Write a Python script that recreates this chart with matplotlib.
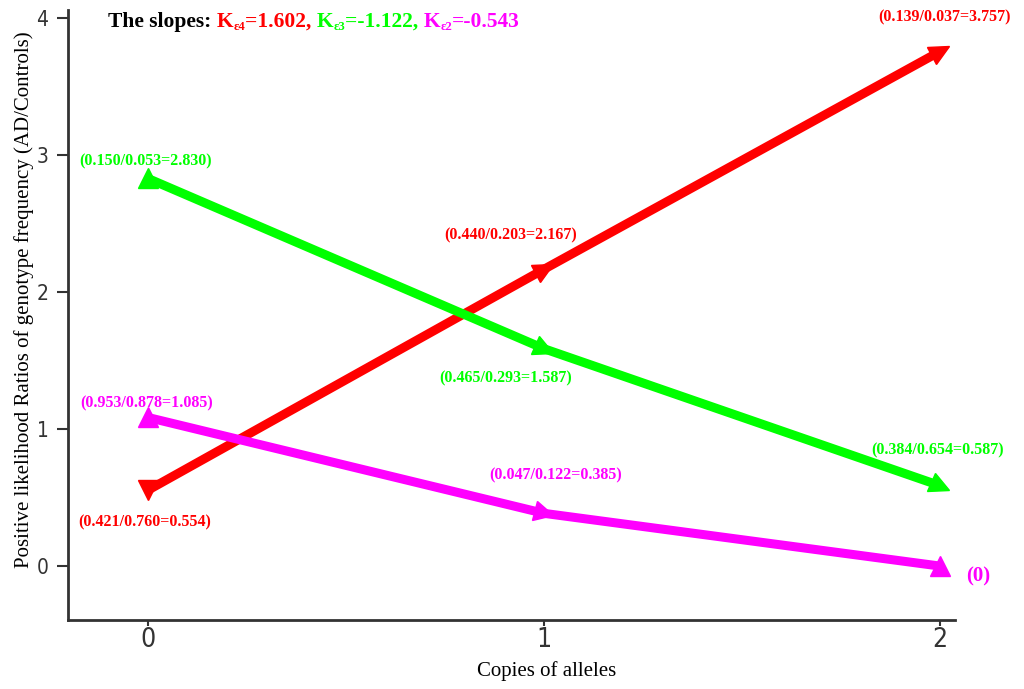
import os
import matplotlib.pyplot as plt
from matplotlib.markers import MarkerStyle
from matplotlib.transforms import Affine2D, IdentityTransform
from matplotlib import font_manager

copies = [0, 1, 2]
e4_vals = [0.554, 2.167, 3.757]
e3_vals = [2.830, 1.587, 0.587]
e2_vals = [1.085, 0.385, 0.0]
e4_labels = ["(0.421/0.760=0.554)", "(0.440/0.203=2.167)", "(0.139/0.037=3.757)"]
e3_labels = ["(0.150/0.053=2.830)", "(0.465/0.293=1.587)", "(0.384/0.654=0.587)"]
e2_labels = ["(0.953/0.878=1.085)", "(0.047/0.122=0.385)", "(0)"]

red = "#ff0000"
green = "#00ff00"
mag = "#ff00ff"
serif = "Liberation Serif"

# narrow upright sans for the tick numbers if one is around
names = {f.name for f in font_manager.fontManager.ttflist}
cond = [f.fname for f in font_manager.fontManager.ttflist
        if os.path.basename(f.fname) == "DejaVuSansCondensed.ttf"]
if "Liberation Sans Narrow" in names:
    tickfont = dict(fontfamily="Liberation Sans Narrow")
elif cond:
    tickfont = dict(fontproperties=font_manager.FontProperties(fname=cond[0]))
else:
    tickfont = dict(fontfamily="Liberation Sans")


def arrow(deg):
    return MarkerStyle(">", transform=Affine2D().rotate_deg(deg))


fig = plt.figure(figsize=(10.24, 6.89), dpi=100)
ax = fig.add_axes([0.0664, 0.1001, 0.8662, 0.8854])

# marker direction follows the line on screen
e4_marks = ["v", arrow(29), arrow(29)]
e3_marks = ["^", arrow(-23), arrow(-23)]
e2_marks = ["^", arrow(-14), "^"]
for vals, marks, col in [(e4_vals, e4_marks, red), (e3_vals, e3_marks, green),
                         (e2_vals, e2_marks, mag)]:
    ax.plot(copies, vals, color=col, lw=6.5, solid_capstyle="butt")
    for x, y, m in zip(copies, vals, marks):
        ax.plot([x], [y], color=col, marker=m, ms=14, ls="none")

ax.set_xlim(-0.202, 2.038)
ax.set_ylim(-0.394, 4.06)
ax.set_xticks([0, 1, 2])
ax.set_yticks([0, 1, 2, 3, 4])
for s in ["top", "right"]:
    ax.spines[s].set_visible(False)
for s in ["left", "bottom"]:
    ax.spines[s].set_linewidth(2)
    ax.spines[s].set_color("#333333")
ax.tick_params(axis="y", length=8, width=1.5, color="#333333", pad=6)
ax.tick_params(axis="x", length=4, width=1.5, color="#333333", pad=1)
for t in ax.get_yticklabels():
    t.update(tickfont)
    t.set_fontsize(15)
    t.set_color("#333333")
for t in ax.get_xticklabels():
    t.update(tickfont)
    t.set_fontsize(19)
    t.set_color("#333333")

ax.set_xlabel("Copies of alleles", fontfamily=serif, fontsize=15, labelpad=6, x=0.54)
ax.set_ylabel("Positive likelihood Ratios of genotype frequency (AD/Controls)",
              fontfamily=serif, fontsize=15, labelpad=2, y=0.525)

# point labels
offs_e4 = [(-3, -32), (-33, 34), (5, 34)]
offs_e3 = [(-2, 17), (-38, -30), (-2, 35)]
offs_e2 = [(-1, 14), (12, 38), (38, -10)]
for vals, labs, offs, col in [(e4_vals, e4_labels, offs_e4, red),
                              (e3_vals, e3_labels, offs_e3, green),
                              (e2_vals, e2_labels, offs_e2, mag)]:
    for x, y, lab, o in zip(copies, vals, labs, offs):
        fs = 15 if lab == "(0)" else 11.5
        ax.annotate(lab, (x, y), xytext=o, textcoords="offset pixels",
                    ha="center", va="center", color=col, fontsize=fs,
                    fontweight="bold", fontfamily=serif)

# slopes line, laid out piece by piece in pixels
pieces = [("The slopes: ", "black", 15.5, 0),
          ("K", red, 15.5, 0), ("ε4", red, 9, -3), ("=1.602, ", red, 15.5, 0),
          ("K", green, 15.5, 0), ("ε3", green, 9, -3), ("=-1.122, ", green, 15.5, 0),
          ("K", mag, 15.5, 0), ("ε2", mag, 9, -3), ("=-0.543", mag, 15.5, 0)]
fig.canvas.draw()
r = fig.canvas.get_renderer()
xpix = 108
ybase = 689 - 27
for txt, col, fs, dy in pieces:
    t = fig.text(xpix, ybase + dy, txt, color=col, fontsize=fs, fontweight="bold",
                 fontfamily=serif, va="baseline", transform=IdentityTransform())
    xpix = t.get_window_extent(r).x1

fig.savefig("out.png", dpi=100)
